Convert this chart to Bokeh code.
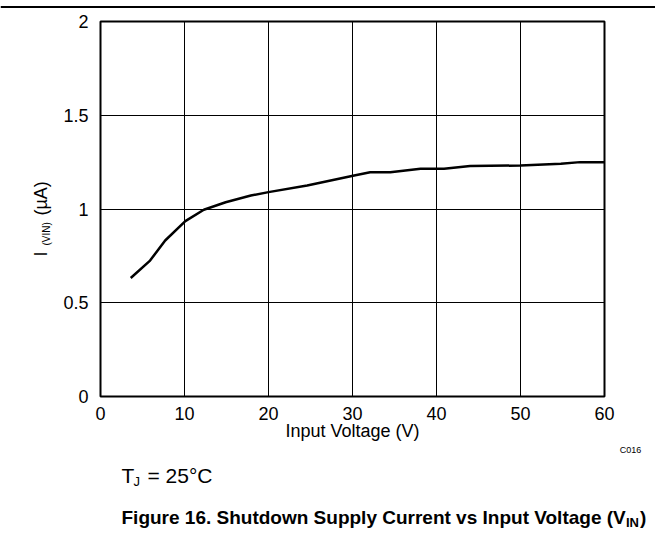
from bokeh.plotting import figure
from bokeh.models import FixedTicker, Range1d, Span
from bokeh.layouts import column, row
from bokeh.core.properties import value
from bokeh.embed import file_html
from bokeh.resources import INLINE
import math

# Data
vin = [3.6, 5.9, 7.7, 10.1, 12.3, 14.9, 17.9, 20.0, 24.6, 30.2, 32.1, 34.5, 38.1, 40.9, 44.0, 50.0, 54.8, 57.1, 60.0]
i_vin = [0.632, 0.725, 0.832, 0.935, 0.996, 1.036, 1.072, 1.090, 1.125, 1.179, 1.196, 1.196, 1.215, 1.215, 1.229, 1.232, 1.241, 1.250, 1.250]
x_ticks = [0, 10, 20, 30, 40, 50, 60]
y_ticks = [0, 0.5, 1, 1.5, 2]
y_tick_labels = {0: "0", 0.5: "0.5", 1: "1", 1.5: "1.5", 2: "2"}

x_title = "Input Voltage (V)"
y_title_parts = ["I", "(VIN)", "(µA)"]
code_text = "C016"
cond_parts = ["T", "J", "= 25°C"]
caption_parts = ["Figure 16. Shutdown Supply Current vs Input Voltage (V", "IN", ")"]

FONT = "Liberation Sans"
W = 655
TOP_H = 12
ROW_END = 444
ROW_H = ROW_END - TOP_H
LEFT_W = 56
CAP_H = 539 - ROW_END
FRAME_L, FRAME_R, FRAME_T, FRAME_B = 100, 604, 21, 396


def bare(fig):
    fig.axis.visible = False
    fig.grid.visible = False
    fig.outline_line_color = None
    fig.background_fill_color = "white"
    fig.border_fill_color = "white"
    return fig


# --- top rule ---
top = bare(figure(width=W, height=TOP_H, output_backend="svg", toolbar_location=None,
                  x_range=Range1d(0, W), y_range=Range1d(TOP_H, 0),
                  min_border=0))
top.add_layout(Span(location=6.5, dimension="width", line_color="black", line_width=2))

# --- y title panel (frame aligned with main frame vertically) ---
yl = bare(figure(width=LEFT_W, height=ROW_H, output_backend="svg", toolbar_location=None,
                 x_range=Range1d(0, LEFT_W), y_range=Range1d(FRAME_B, FRAME_T),
                 min_border_left=0, min_border_right=0,
                 min_border_top=FRAME_T - TOP_H, min_border_bottom=ROW_END - FRAME_B))
yl.text(x=[40], y=[256], text=[y_title_parts[0]], angle=math.pi / 2,
        text_font=value(FONT), text_font_size=value("18px"), text_color="black",
        text_align="left", text_baseline="middle")
yl.text(x=[46], y=[245], text=[y_title_parts[1]], angle=math.pi / 2,
        text_font=value(FONT), text_font_size=value("10px"), text_color="black",
        text_align="left", text_baseline="middle")
yl.text(x=[40], y=[215], text=[y_title_parts[2]], angle=math.pi / 2,
        text_font=value(FONT), text_font_size=value("18px"), text_color="black",
        text_align="left", text_baseline="middle")

# --- main plot ---
p = figure(width=W - LEFT_W, height=ROW_H, output_backend="svg", toolbar_location=None,
           x_range=Range1d(0, 60), y_range=Range1d(0, 2),
           min_border_left=FRAME_L - LEFT_W, min_border_right=W - FRAME_R,
           min_border_top=FRAME_T - TOP_H, min_border_bottom=ROW_END - FRAME_B)
p.background_fill_color = "white"
p.border_fill_color = "white"
p.outline_line_color = "black"
p.outline_line_width = 2

for ax in (p.xaxis, p.yaxis):
    ax.axis_line_color = None
    ax.major_tick_line_color = None
    ax.minor_tick_line_color = None
    ax.major_tick_out = 0
    ax.major_tick_in = 0
    ax.minor_tick_out = 0
    ax.minor_tick_in = 0
    ax.major_label_text_font = FONT
    ax.major_label_text_font_size = "18px"
    ax.major_label_text_color = "black"

p.xaxis.ticker = FixedTicker(ticks=x_ticks)
p.yaxis.ticker = FixedTicker(ticks=y_ticks)
p.yaxis.major_label_overrides = y_tick_labels
p.xaxis.major_label_standoff = 10
p.yaxis.major_label_standoff = 12

p.xaxis.axis_label = x_title
p.xaxis.axis_label_text_font = FONT
p.xaxis.axis_label_text_font_size = "18px"
p.xaxis.axis_label_text_font_style = "normal"
p.xaxis.axis_label_text_color = "black"
p.xaxis.axis_label_standoff = -2

p.xgrid.ticker = FixedTicker(ticks=x_ticks)
p.ygrid.ticker = FixedTicker(ticks=y_ticks)
p.grid.grid_line_color = "black"
p.grid.grid_line_width = 1
p.grid.grid_line_alpha = 1.0

p.line(vin, i_vin, line_color="black", line_width=2.5)

# --- caption panel ---
cap = bare(figure(width=W, height=CAP_H, output_backend="svg", toolbar_location=None,
                  x_range=Range1d(0, W), y_range=Range1d(ROW_END + CAP_H, ROW_END),
                  min_border=0))


def t(fig, x, y, s, size, align="left", bold=False):
    fig.text(x=[x], y=[y], text=[s], text_font=value(FONT), text_font_size=value(size),
             text_color="black", text_align=align, text_baseline="middle",
             text_font_style="bold" if bold else "normal")


t(cap, 630, 449, code_text, "9px", align="center")
t(cap, 121, 475, cond_parts[0], "21px")
t(cap, 133, 481, cond_parts[1], "13px")
t(cap, 147, 475, cond_parts[2], "21px")
t(cap, 121, 517, caption_parts[0], "19px", bold=True)
t(cap, 625.5, 522, caption_parts[1], "13px", bold=True)
t(cap, 639.5, 517, caption_parts[2], "19px", bold=True)

layout = column(top, row(yl, p), cap)
open("out.html", "w").write(file_html(layout, INLINE))
